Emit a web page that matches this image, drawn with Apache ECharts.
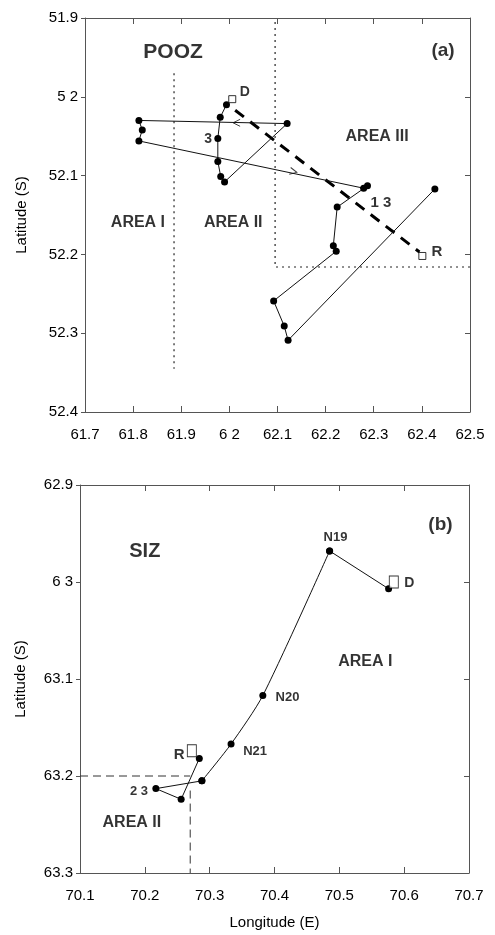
<!DOCTYPE html>
<html>
<head>
<meta charset="utf-8">
<script src="https://cdn.jsdelivr.net/npm/echarts@6/dist/echarts.min.js"></script>
<style>html,body{margin:0;padding:0;background:#fff}#c{width:495px;height:935px}</style>
</head>
<body>
<div id="c"></div>
<script>
// ---------- Panel (a) POOZ ----------
const topXTicks = ['61.7','61.8','61.9','6 2','62.1','62.2','62.3','62.4','62.5'];
const topYTicks = ['51.9','5 2','52.1','52.2','52.3','52.4'];
const trackALon = [61.994, 61.981, 61.976, 61.976, 61.982, 61.990, 62.120, 61.812, 61.819, 61.812, 62.279, 62.287, 62.224, 62.216, 62.222, 62.092, 62.114, 62.122, 62.427];
const trackALat = [52.010, 52.026, 52.053, 52.082, 52.101, 52.108, 52.034, 52.030, 52.042, 52.056, 52.116, 52.113, 52.140, 52.189, 52.196, 52.259, 52.291, 52.309, 52.117];
const dashALon = [62.012, 62.395];
const dashALat = [52.017, 52.197];
const squaresALon = [62.006, 62.401];
const squaresALat = [52.003, 52.202];
const arrowsALon = [62.015, 62.133];
const arrowsALat = [52.033, 52.095];
const borderA1Lon = [61.885, 61.885], borderA1Lat = [51.97, 52.345];
const borderA2Lon = [62.095, 62.095, 62.5], borderA2Lat = [51.905, 52.216, 52.216];
const labelsAText = ['POOZ', '(a)', 'D', '3', 'AREA III', 'AREA I', 'AREA II', '1 3', 'R'];
const labelsALon  = [61.883, 62.444, 62.032, 61.956, 62.307, 61.810, 62.008, 62.315, 62.431];
const labelsALat  = [51.943, 51.941, 51.994, 52.054, 52.051, 52.160, 52.160, 52.134, 52.197];

// ---------- Panel (b) SIZ ----------
const botXTicks = ['70.1','70.2','70.3','70.4','70.5','70.6','70.7'];
const botYTicks = ['62.9','6 3','63.1','63.2','63.3'];
const trackBLon = [70.576, 70.485, 70.382, 70.333, 70.288, 70.217, 70.256, 70.284];
const trackBLat = [63.007, 62.968, 63.117, 63.167, 63.205, 63.213, 63.224, 63.182];
const squaresBLon = [70.584, 70.2725];
const squaresBLat = [63.000, 63.174];
const borderBHLon = [70.1, 70.27], borderBHLat = [63.2, 63.2];
const borderBVLon = [70.27, 70.27], borderBVLat = [63.215, 63.3];
const labelsBText = ['SIZ', '(b)', 'N19', 'D', 'AREA I', 'N20', 'N21', 'R', '2 3', 'AREA II'];
const labelsBLon  = [70.200, 70.656, 70.494, 70.608, 70.540, 70.420, 70.370, 70.253, 70.191, 70.180];
const labelsBLat  = [62.969, 62.941, 62.954, 63.001, 63.082, 63.119, 63.175, 63.178, 63.216, 63.248];

const zip = (a, b) => a.map((v, i) => [v, b[i]]);
const FONT = 'Liberation Sans';
const labelSize = {
  'POOZ': 21, '(a)': 19, 'SIZ': 20, '(b)': 19,
  'AREA III': 16, 'AREA I': 16, 'AREA II': 16,
  'D': 14, 'R': 15, '3': 14, '1 3': 15, '2 3': 13,
  'N19': 13, 'N20': 13, 'N21': 13
};
function labelData(texts, lons, lats) {
  return texts.map((t, i) => ({
    value: [lons[i], lats[i]],
    label: { formatter: t, fontSize: labelSize[t] || 14 }
  }));
}
function tickFmt(ticks, min) {
  return v => ticks[Math.round((v - min) / 0.1)] ?? '';
}
const axisLine = { show: true, lineStyle: { color: '#555', width: 1 } };
const lblStyle = { color: '#000', fontFamily: FONT, fontSize: 15 };

function xAxes(grid, min, max, ticks, name) {
  return [
    { type: 'value', gridIndex: grid, position: 'bottom', min, max, interval: 0.1,
      axisLine, splitLine: { show: false },
      axisTick: { show: true, inside: true, length: 6, lineStyle: { color: '#555' } },
      axisLabel: Object.assign({ margin: 15, formatter: tickFmt(ticks, min), showMinLabel: true, showMaxLabel: true }, lblStyle),
      name: name || '', nameLocation: 'middle', nameGap: 42,
      nameTextStyle: { color: '#000', fontFamily: FONT, fontSize: 15 } },
    { type: 'value', gridIndex: grid, position: 'top', min, max, interval: 0.1,
      axisLine, splitLine: { show: false },
      axisTick: { show: true, inside: true, length: 6, lineStyle: { color: '#555' } },
      axisLabel: { show: false } }
  ];
}
function yAxes(grid, min, max, ticks, gap) {
  return [
    { type: 'value', gridIndex: grid, position: 'left', inverse: true, min, max, interval: 0.1,
      axisLine, splitLine: { show: false },
      axisTick: { show: true, inside: false, length: 4, lineStyle: { color: '#555' } },
      axisLabel: Object.assign({ margin: 7, formatter: tickFmt(ticks, min), showMinLabel: true, showMaxLabel: true }, lblStyle),
      name: 'Latitude (S)', nameLocation: 'middle', nameGap: gap, nameRotate: 90,
      nameTextStyle: { color: '#000', fontFamily: FONT, fontSize: 15 } },
    { type: 'value', gridIndex: grid, position: 'right', inverse: true, min, max, interval: 0.1,
      axisLine, splitLine: { show: false },
      axisTick: { show: true, inside: true, length: 5, lineStyle: { color: '#555' } },
      axisLabel: { show: false } }
  ];
}

const dotLine = { color: '#222', width: 1.2, type: [2, 4] };
const dashLine = { color: '#333', width: 1, type: [8, 5] };
function plainLine(xi, yi, data, style, extra) {
  return Object.assign({ type: 'line', xAxisIndex: xi, yAxisIndex: yi, data, symbol: 'none',
    lineStyle: style, silent: true, z: 1 }, extra || {});
}
function labelSeries(xi, yi, data) {
  return { type: 'scatter', xAxisIndex: xi, yAxisIndex: yi, data, symbolSize: 1, silent: true, z: 10,
    itemStyle: { color: 'rgba(0,0,0,0)' },
    label: { show: true, position: 'inside', color: '#000', fontFamily: FONT, fontWeight: 'bold',
      textBorderWidth: 0 } };
}

const option = {
  animation: false,
  backgroundColor: '#fff',
  grid: [
    { left: 85, top: 18, width: 385, height: 394 },
    { left: 80, top: 485, width: 389, height: 388 }
  ],
  xAxis: [...xAxes(0, 61.7, 62.5, topXTicks), ...xAxes(1, 70.1, 70.7, botXTicks, 'Longitude (E)')],
  yAxis: [...yAxes(0, 51.9, 52.4, topYTicks, 56), ...yAxes(1, 62.9, 63.3, botYTicks, 52)],
  series: [
    // panel a
    plainLine(0, 0, zip(borderA1Lon, borderA1Lat), dotLine),
    plainLine(0, 0, zip(borderA2Lon, borderA2Lat), dotLine),
    plainLine(0, 0, zip(dashALon, dashALat), { color: '#000', width: 3, type: [11, 8] }, { z: 3 }),
    { type: 'line', xAxisIndex: 0, yAxisIndex: 0, data: zip(trackALon, trackALat),
      symbol: 'circle', symbolSize: 7, showAllSymbol: true, silent: true, z: 4,
      itemStyle: { color: '#000' }, lineStyle: { color: '#111', width: 1 } },
    { type: 'scatter', xAxisIndex: 0, yAxisIndex: 0, silent: true, z: 5,
      data: [
        { value: [arrowsALon[0], arrowsALat[0]], symbolRotate: 180 },
        { value: [arrowsALon[1], arrowsALat[1]], symbolRotate: -12 }
      ],
      symbol: 'path://M0,0 L10,5 L0,10', symbolSize: [7, 7],
      itemStyle: { color: 'rgba(0,0,0,0)', borderColor: '#111', borderWidth: 1 } },
    { type: 'scatter', xAxisIndex: 0, yAxisIndex: 0, data: zip(squaresALon, squaresALat),
      symbol: 'rect', symbolSize: 7, silent: true, z: 6,
      itemStyle: { color: '#fff', borderColor: '#000', borderWidth: 1 } },
    labelSeries(0, 0, labelData(labelsAText, labelsALon, labelsALat)),
    // panel b
    plainLine(2, 2, zip(borderBHLon, borderBHLat), dashLine),
    plainLine(2, 2, zip(borderBVLon, borderBVLat), dashLine),
    { type: 'line', xAxisIndex: 2, yAxisIndex: 2, data: zip(trackBLon.slice(0, 2), trackBLat.slice(0, 2)),
      symbol: 'circle', symbolSize: 7, showAllSymbol: true, silent: true, z: 4,
      itemStyle: { color: '#000' }, lineStyle: { color: '#111', width: 1 } },
    { type: 'line', xAxisIndex: 2, yAxisIndex: 2, data: zip(trackBLon.slice(1, 5), trackBLat.slice(1, 5)),
      symbol: 'circle', symbolSize: 7, showAllSymbol: true, silent: true, z: 4, smooth: 0.25,
      itemStyle: { color: '#000' }, lineStyle: { color: '#111', width: 1 } },
    { type: 'line', xAxisIndex: 2, yAxisIndex: 2, data: zip(trackBLon.slice(4), trackBLat.slice(4)),
      symbol: 'circle', symbolSize: 7, showAllSymbol: true, silent: true, z: 4,
      itemStyle: { color: '#000' }, lineStyle: { color: '#111', width: 1 } },
    { type: 'scatter', xAxisIndex: 2, yAxisIndex: 2, data: zip(squaresBLon, squaresBLat),
      symbol: 'rect', symbolSize: [9, 12], silent: true, z: 6,
      itemStyle: { color: '#fff', borderColor: '#000', borderWidth: 1 } },
    labelSeries(2, 2, labelData(labelsBText, labelsBLon, labelsBLat))
  ]
};
const chart = echarts.init(document.getElementById('c'), null, { renderer: 'canvas' });
chart.setOption(option);
</script>
</body>
</html>
